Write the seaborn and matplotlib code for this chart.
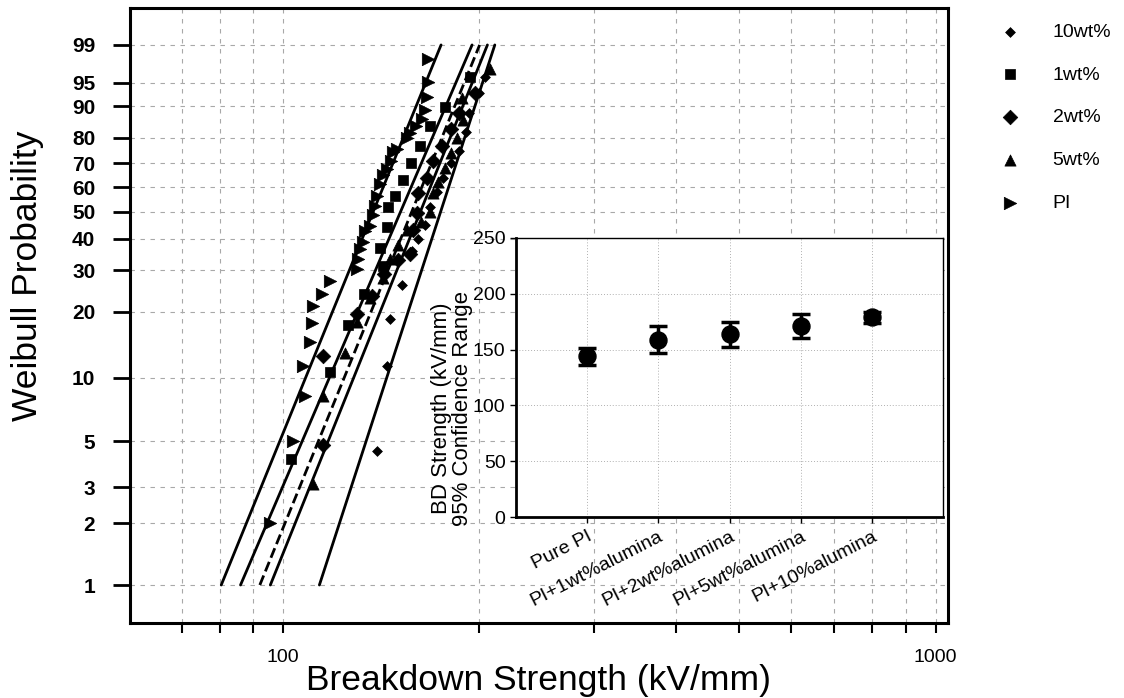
import numpy as np
import matplotlib.pyplot as plt
import seaborn as sns

sns.set_style("white")
plt.rcParams["font.family"] = ["Liberation Sans", "DejaVu Sans"]
plt.rcParams["text.color"] = "black"
plt.rcParams["axes.labelcolor"] = "black"
plt.rcParams["xtick.color"] = "black"
plt.rcParams["ytick.color"] = "black"

# Weibull plot data (breakdown strength kV/mm, cumulative probability %)
groups = ["10wt%", "1wt%", "2wt%", "5wt%", "PI"]

wt10_kv = [139.4, 144.4, 145.9, 152.0, 157.7, 161.0, 165.0, 168.0, 172.0, 176.0, 181.0, 186.0, 191.0, 193.0, 200.0, 204.0]
wt10_prob = [4.5, 11.4, 18.5, 26.0, 35.8, 40.0, 45.0, 52.0, 58.0, 64.0, 70.0, 75.0, 82.0, 88.0, 93.0, 96.0]

wt1_kv = [102.9, 118.1, 125.8, 133.0, 142.4, 141.0, 144.4, 144.9, 148.5, 153.0, 157.0, 162.0, 168.0, 177.0, 193.5]
wt1_prob = [4.1, 10.6, 17.4, 24.0, 31.4, 37.0, 44.3, 52.0, 56.5, 63.0, 70.0, 77.0, 84.0, 89.8, 95.9]

wt2_kv = [115.2, 115.2, 129.9, 136.9, 143.0, 150.0, 156.6, 158.0, 160.5, 161.0, 166.0, 170.0, 175.0, 181.0, 186.0, 197.0]
wt2_prob = [4.8, 12.6, 19.6, 23.5, 29.0, 33.0, 35.0, 43.0, 49.6, 57.6, 64.0, 71.0, 77.0, 83.0, 88.0, 93.0]

wt5_kv = [111.2, 115.2, 124.5, 130.0, 136.0, 142.4, 146.0, 150.0, 155.0, 162.6, 168.0, 170.0, 173.0, 177.0, 181.0, 185.0, 189.0, 188.0, 207.7]
wt5_prob = [3.1, 8.2, 13.0, 18.0, 23.0, 28.0, 33.5, 38.0, 43.0, 46.0, 50.0, 57.6, 62.0, 68.0, 74.0, 80.0, 86.0, 92.0, 97.0]

pi_kv = [95.5, 103.6, 108.1, 107.3, 110.0, 110.8, 111.2, 114.8, 118.1, 129.9, 130.3, 131.2, 132.6, 133.6,
         135.9, 137.4, 138.4, 139.4, 140.9, 142.4, 144.4, 146.5, 147.5, 149.5, 155.0, 156.6, 160.0, 163.4,
         165.0, 166.1, 166.7, 166.7]
pi_prob = [2.0, 5.0, 8.2, 11.4, 14.7, 17.8, 21.3, 24.0, 27.0, 30.5, 33.5, 36.5, 39.0, 42.9, 44.7, 48.6,
           52.5, 56.5, 61.5, 65.0, 67.8, 71.0, 74.5, 75.8, 80.0, 81.5, 84.0, 86.3, 89.0, 92.2, 95.2, 98.0]

# Weibull fit parameters (scale eta, shape beta), same order as groups
fit_eta = [181, 159, 165, 170, 144]
fit_beta = [9.9, 7.5, 7.9, 8.0, 7.9]
fit_style = ["-", "-", "--", "-", "-"]

prob_ticks = [1, 2, 3, 5, 10, 20, 30, 40, 50, 60, 70, 80, 90, 95, 99]

# inset: BD strength with 95% confidence range
inset_labels = ["Pure PI", "PI+1wt%alumina", "PI+2wt%alumina", "PI+5wt%alumina", "PI+10%alumina"]
inset_mean = [144, 159, 164, 171, 179]
inset_low = [136, 147, 152, 160, 174]
inset_high = [151, 171, 175, 182, 184]

series = {
    "10wt%": (wt10_kv, wt10_prob, "D", 25),
    "1wt%": (wt1_kv, wt1_prob, "s", 45),
    "2wt%": (wt2_kv, wt2_prob, "D", 55),
    "5wt%": (wt5_kv, wt5_prob, "^", 65),
    "PI": (pi_kv, pi_prob, ">", 80),
}


def weib_fwd(p):
    p = np.clip(np.asarray(p, dtype=float) / 100.0, 1e-9, 1 - 1e-9)
    return np.log(-np.log(1 - p))


def weib_inv(w):
    return 100.0 * (1 - np.exp(-np.exp(w)))


fig = plt.figure(figsize=(11.24, 6.98), dpi=100)
ax = fig.add_axes([130 / 1124, 1 - 623 / 698, 818 / 1124, 615 / 698])
ax.set_xscale("log")
ax.set_yscale("function", functions=(weib_fwd, weib_inv))

for g, eta, beta, ls in zip(groups, fit_eta, fit_beta, fit_style):
    p_end = np.array([1.0, 99.0])
    x_end = eta * (-np.log(1 - p_end / 100)) ** (1 / beta)
    sns.lineplot(x=x_end, y=p_end, ax=ax, color="black", lw=2, linestyle=ls, legend=False, zorder=3)

for g in groups:
    kv, prob, mk, s = series[g]
    sns.scatterplot(x=kv, y=prob, ax=ax, marker=mk, s=s, color="black", edgecolor="black",
                    linewidth=0.5, zorder=4, label=g)
h, l = ax.get_legend_handles_labels()
ax.get_legend().remove()

ax.set_xlim(58.3, 1045)
ax.set_ylim(0.651, 99.909)
ax.set_xticks([100, 1000])
ax.set_xticklabels(["100", "1000"])
ax.set_xticks([70, 80, 90, 200, 300, 400, 500, 600, 700, 800, 900], minor=True)
ax.set_xticklabels([], minor=True)
ax.set_yticks(prob_ticks)
ax.set_yticklabels([str(t) for t in prob_ticks], fontweight="bold")
ax.set_yticks([], minor=True)
ax.tick_params(axis="y", which="major", length=12, width=2, pad=13, labelsize=15, direction="out", left=True)
ax.tick_params(axis="x", which="both", length=7, width=1.5, pad=12, labelsize=14, direction="out", bottom=True)
ax.grid(True, axis="y", which="major", color="#a8a8a8", linestyle=(0, (4, 5)), linewidth=0.8)
ax.grid(True, axis="x", which="both", color="#a8a8a8", linestyle=(0, (4, 5)), linewidth=0.8)
for sp in ax.spines.values():
    sp.set_linewidth(2.2)
    sp.set_color("black")
ax.set_xlabel("")
ax.set_ylabel("")

fig.text(28 / 1124, 1 - 276 / 698, "Weibull Probability", rotation=90, ha="center", va="center", fontsize=25.5)
fig.text(539 / 1124, 1 - 690 / 698, "Breakdown Strength (kV/mm)", ha="center", va="baseline", fontsize=25.5)

fig.legend(h, l, loc="upper left", bbox_to_anchor=(1000 / 1124, 1 - 23 / 698), frameon=False,
           fontsize=14, labelspacing=1.3, handlelength=1.0, handletextpad=1.7, borderpad=0,
           borderaxespad=0)

# inset
ax2 = fig.add_axes([516 / 1124, 1 - 517 / 698, 427 / 1124, 279 / 698], facecolor="white", zorder=5)
pos = np.arange(len(inset_labels))
mean = np.array(inset_mean)
ax2.errorbar(pos, mean, yerr=[mean - np.array(inset_low), np.array(inset_high) - mean], fmt="none",
             ecolor="black", elinewidth=2.5, capsize=6.5, capthick=2.5, zorder=3)
sns.scatterplot(x=pos, y=mean, ax=ax2, s=150, color="black", edgecolor="black", zorder=4, legend=False)
ax2.set_xlim(-1, 5)
ax2.set_ylim(0, 250)
ax2.set_yticks([0, 50, 100, 150, 200, 250])
ax2.set_xticks(pos)
ax2.set_xticklabels(inset_labels, rotation=27, ha="right", rotation_mode="anchor")
ax2.tick_params(axis="both", labelsize=14, length=4, width=1, direction="out", left=True, bottom=True)
ax2.tick_params(axis="x", pad=4)
ax2.grid(True, color="#b0b0b0", linestyle=(0, (1, 2)), linewidth=0.7)
for side in ["left", "bottom"]:
    ax2.spines[side].set_linewidth(2)
for side in ["top", "right"]:
    ax2.spines[side].set_linewidth(1)
for sp in ax2.spines.values():
    sp.set_color("black")
ax2.set_ylabel("BD Strength (kV/mm)\n95% Confidence Range", fontsize=16, multialignment="center",
               linespacing=1.05)
ax2.yaxis.set_label_coords(-0.1, 0.39)

plt.savefig("out.png", dpi=100)
